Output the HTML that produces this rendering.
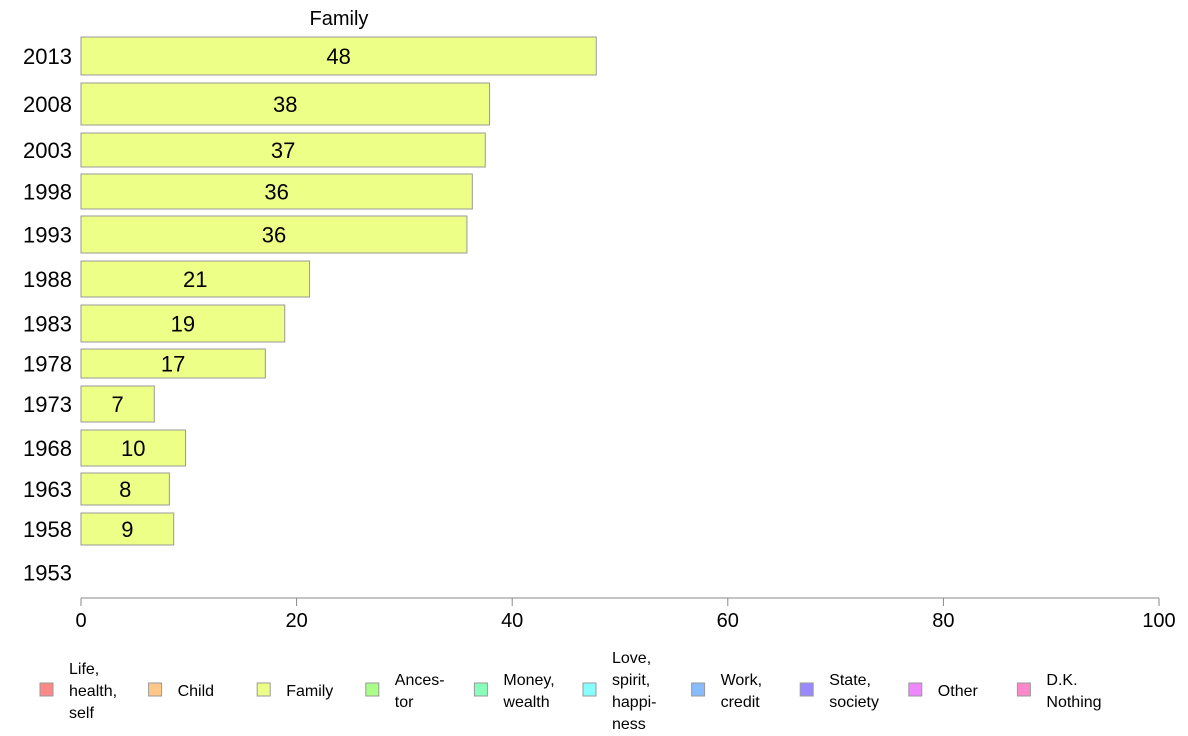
<!DOCTYPE html>
<html><head><meta charset="utf-8"><style>
body{margin:0;background:#fff;font-family:"Liberation Sans",sans-serif;}
svg{display:block}
</style></head><body>
<svg id="chart" width="1188" height="736"></svg>
<script>
const years=["2013","2008","2003","1998","1993","1988","1983","1978","1973","1968","1963","1958","1953"];
const values=[47.8,37.9,37.5,36.3,35.8,21.2,18.9,17.1,6.8,9.7,8.2,8.6,null];
const valueLabels=["48","38","37","36","36","21","19","17","7","10","8","9",""];
const xTicks=[0,20,40,60,80,100];
const legendLabels=[["Life,","health,","self"],["Child"],["Family"],["Ances-","tor"],["Money,","wealth"],["Love,","spirit,","happi-","ness"],["Work,","credit"],["State,","society"],["Other"],["D.K.","Nothing"]];
const legendColors=["#ff8888","#ffc888","#eeff88","#aaff88","#88ffbb","#88ffff","#88bbff","#9988ff","#ee88ff","#ff88cc"];
// layout (pixel row extents, not data)
const rowTop=[37,83,133,174,216,261,305,349,386,430,473,513,555];
const rowBot=[75,125,167,209,253,297,342,378,422,466,505,545,590];
const NS="http://www.w3.org/2000/svg";
const svg=document.getElementById("chart");
const x0=81,x1=1159;
const xs=v=>x0+(x1-x0)*v/100;
function mk(t,a,p){const e=document.createElementNS(NS,t);for(const k in a)e.setAttribute(k,a[k]);(p||svg).appendChild(e);return e;}
const title=mk("text",{x:339,y:25,"font-size":20,"text-anchor":"middle",fill:"#000"});


title.textContent="Family";
years.forEach((y,i)=>{
  const cy=(rowTop[i]+rowBot[i])/2;
  const yl=mk("text",{x:72,y:cy+8,"font-size":22,"text-anchor":"end",fill:"#000"});
  
  
  yl.textContent=y;
  if(values[i]!=null){
    const r=mk("rect",{x:x0,y:rowTop[i],width:xs(values[i])-x0,height:rowBot[i]-rowTop[i],fill:"#eeff88",stroke:"#999","stroke-width":1});
    
    
    const t=mk("text",{x:(x0+xs(values[i]))/2,y:cy+8,"font-size":22,"text-anchor":"middle",fill:"#000"});
    
    
    t.textContent=valueLabels[i];
  }
});
const ax=mk("line",{x1:x0,x2:x1,y1:598,y2:598,stroke:"#888"});


xTicks.forEach(v=>{
  const l=mk("line",{x1:xs(v),x2:xs(v),y1:598,y2:606,stroke:"#888"});
  
  
  const t=mk("text",{x:xs(v),y:627,"font-size":20,"text-anchor":"middle",fill:"#000"});
  
  
  t.textContent=v;
});
legendLabels.forEach((lines,i)=>{
  const sx=40+i*108.6;
  const g=mk("g",{});
  
  
  mk("rect",{x:sx,y:683,width:13,height:13,fill:legendColors[i],stroke:"#999"},g);
  const t=mk("text",{x:sx+29,"font-size":16,fill:"#000"},g);
  const n=lines.length, lh=22, start=690-(n-1)*lh/2+6;
  lines.forEach((s,j)=>{const ts=mk("tspan",{x:sx+29,y:start+j*lh},t);ts.textContent=s;});
});
</script>
</body></html>
